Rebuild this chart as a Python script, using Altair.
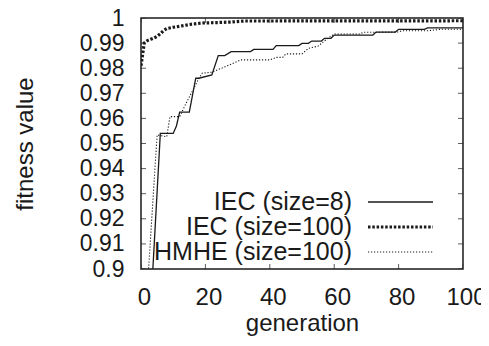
import altair as alt
import pandas as pd

# ---- data ----
iec8_gen = [3, 6, 10, 11, 12, 15, 17, 18, 22, 24, 26, 28, 34, 35, 41, 42, 49, 50, 52, 53, 56, 57, 59, 60, 72, 73, 79, 80, 88, 89, 100]
iec8_val = [0.884, 0.954, 0.954, 0.957, 0.9625, 0.9625, 0.976, 0.976, 0.9773, 0.985, 0.985, 0.9866, 0.9866, 0.9875, 0.9875,
            0.989, 0.989, 0.9899, 0.9899, 0.9908, 0.9908, 0.9919, 0.9919, 0.9932, 0.9932, 0.9944, 0.9944, 0.9955, 0.9955,
            0.9961, 0.9961]

iec100_gen = [0, 1, 2, 3, 4, 5, 6, 7, 8, 10, 12, 15, 19, 24, 28, 32, 100]
iec100_val = [0.981, 0.990, 0.991, 0.9915, 0.992, 0.9927, 0.9937, 0.995, 0.9958, 0.9963, 0.9967, 0.9974, 0.998,
              0.9982, 0.9984, 0.9988, 0.9989]

hmhe_gen = [2, 5, 8, 9, 12, 14, 16, 18, 19, 22, 25, 28, 31, 40, 42, 44, 45, 50, 52, 55, 58, 60, 68, 69, 80, 81, 89, 93, 100]
hmhe_val = [0.893, 0.9534, 0.9527, 0.9607, 0.9607, 0.966, 0.971, 0.976, 0.978, 0.9784, 0.980, 0.9816, 0.9833, 0.9833,
            0.9843, 0.9843, 0.9857, 0.9857, 0.9879, 0.9888, 0.9919, 0.9936, 0.9936, 0.9943, 0.9944, 0.9949, 0.9949,
            0.9955, 0.9955]

series_names = ["IEC (size=8)", "IEC (size=100)", "HMHE (size=100)"]
x_ticks = [0, 20, 40, 60, 80, 100]
y_ticks = [0.9, 0.91, 0.92, 0.93, 0.94, 0.95, 0.96, 0.97, 0.98, 0.99, 1.0]

FONT = "Liberation Sans"
INK = "#1a1a1a"

styles = {
    "IEC (size=8)": dict(strokeWidth=1.3),
    "IEC (size=100)": dict(strokeWidth=3.2, strokeDash=[2.5, 1.8]),
    "HMHE (size=100)": dict(strokeWidth=1.1, strokeDash=[1.2, 1.8]),
}

xs = alt.Scale(domain=[0, 100], nice=False, zero=False)
ys = alt.Scale(domain=[0.9, 1.0], nice=False, zero=False)

x_axis = alt.Axis(values=x_ticks, format="d", labelOffset=3, labelOverlap=False,
                  labelFlush=False, labelPadding=16, titlePadding=2)
y_axis = alt.Axis(values=y_ticks, format="~g", labelOverlap=False, labelFlush=False,
                  labelFontSize=23, labelSeparation=0, labelPadding=17, titlePadding=42)


def X(field):
    return alt.X(field, scale=xs, axis=x_axis, title="generation")


def Y(field):
    return alt.Y(field, scale=ys, axis=y_axis, title="fitness value")


series_data = {
    "IEC (size=8)": (iec8_gen, iec8_val),
    "IEC (size=100)": (iec100_gen, iec100_val),
    "HMHE (size=100)": (hmhe_gen, hmhe_val),
}

layers = []

# inward ticks on all four sides
yt = pd.DataFrame({"v": y_ticks})
xt = pd.DataFrame({"g": x_ticks})
for side in [0, 100]:
    layers.append(alt.Chart(yt).mark_tick(orient="horizontal", size=10, thickness=1, color=INK, clip=True).encode(
        x=X("s:Q"), y=Y("v:Q")).transform_calculate(s=str(side)))
for side in [0.9, 1.0]:
    layers.append(alt.Chart(xt).mark_tick(orient="vertical", size=10, thickness=1, color=INK, clip=True).encode(
        x=X("g:Q"), y=Y("s:Q")).transform_calculate(s=str(side)))

# data lines
for name in series_names:
    g, v = series_data[name]
    df = pd.DataFrame({"g": g, "v": v})
    layers.append(alt.Chart(df).mark_line(color=INK, clip=True, **styles[name]).encode(
        x=X("g:Q"), y=Y("v:Q")))

# legend (inside, bottom right)
row_y = [184, 209, 234]
for i, name in enumerate(series_names):
    ldf = pd.DataFrame({"name": [name]})
    layers.append(alt.Chart(ldf).mark_text(align="right", baseline="middle", font=FONT, fontSize=25,
                                            color=INK).encode(
        x=alt.value(211), y=alt.value(row_y[i]), text="name:N"))
    layers.append(alt.Chart(ldf).mark_rule(color=INK, **styles[name]).encode(
        x=alt.value(227), x2=alt.value(292), y=alt.value(row_y[i])))

chart = alt.layer(*layers).properties(
    width=322, height=251,
    padding={"left": 133, "top": 10, "right": 18, "bottom": 69},
    autosize="none",
).configure_view(
    stroke=INK, strokeWidth=1.5
).configure_axis(
    domain=False, ticks=False, tickSize=0, grid=False, labelOverlap=False,
    labelFont=FONT, labelFontSize=24, labelColor=INK,
    titleFont=FONT, titleFontSize=24, titleFontWeight="normal", titleColor=INK,
)

chart.save("out.html", embed_options={"renderer": "svg", "actions": False})
